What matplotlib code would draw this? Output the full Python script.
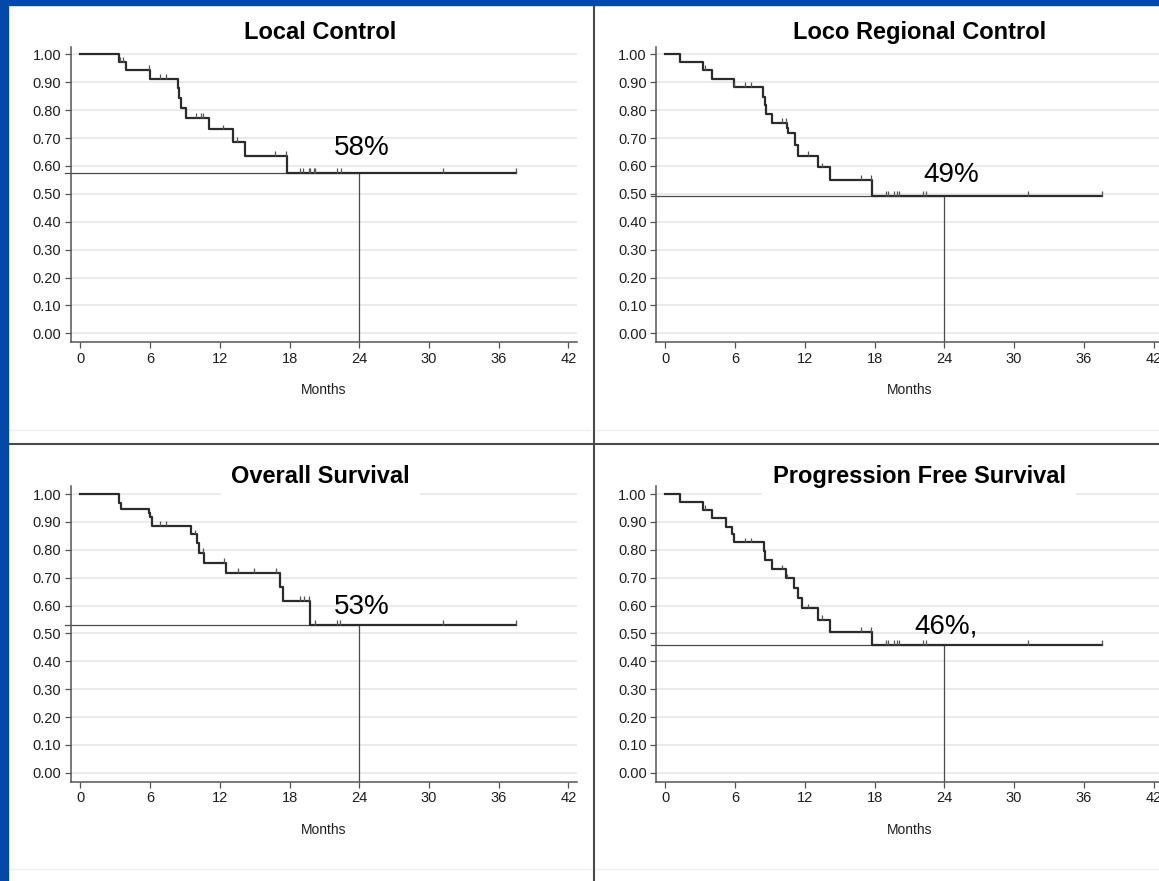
import numpy as np
import matplotlib
matplotlib.use("Agg")
import matplotlib.pyplot as plt
import matplotlib.font_manager as fm
from matplotlib.lines import Line2D
from matplotlib.patches import Rectangle

# ---------------- data ----------------
titles = ["Local Control", "Loco Regional Control", "Overall Survival", "Progression Free Survival"]
pct_labels = ["58%", "49%", "53%", "46%,"]

lc_t = [0, 3.3, 3.93, 5.95, 8.38, 8.47, 8.62, 9.12, 11.04, 13.11, 14.14, 17.78, 37.5]
lc_s = [1.0, 0.973, 0.943, 0.911, 0.88, 0.845, 0.806, 0.771, 0.731, 0.685, 0.636, 0.576, 0.576]
lc_c = [3.44, 3.67, 5.88, 6.83, 7.34, 9.98, 10.38, 10.56, 12.28, 13.5, 16.78, 17.67,
        18.93, 19.13, 19.65, 19.8, 20.08, 20.22, 22.09, 22.43, 31.2, 37.5]

lrc_t = [0, 1.25, 3.25, 3.98, 5.92, 8.42, 8.54, 8.65, 9.19, 10.43, 10.55, 11.14, 11.38, 13.1, 14.18, 17.8, 37.53]
lrc_s = [1.0, 0.971, 0.944, 0.913, 0.882, 0.848, 0.818, 0.786, 0.753, 0.735, 0.717, 0.676, 0.637, 0.595, 0.549, 0.493, 0.493]
lrc_c = [3.4, 5.92, 6.87, 7.36, 10.0, 10.34, 12.29, 13.5, 16.8, 17.66, 18.98, 19.17, 19.66,
         19.9, 20.12, 22.13, 22.42, 31.22, 37.53]

os_t = [0, 3.3, 3.53, 5.88, 5.96, 6.17, 9.52, 10.04, 10.2, 10.61, 12.57, 17.15, 17.44, 19.79, 37.5]
os_s = [1.0, 0.969, 0.945, 0.931, 0.916, 0.885, 0.855, 0.823, 0.789, 0.754, 0.716, 0.667, 0.617, 0.532, 0.532]
os_c = [6.88, 7.4, 9.9, 10.56, 12.33, 13.54, 14.97, 16.87, 18.88, 19.22, 19.65, 20.22,
        22.09, 22.38, 31.2, 37.5]

pfs_t = [0, 1.25, 3.25, 3.98, 5.21, 5.72, 5.9, 8.45, 8.56, 9.17, 10.37, 11.06, 11.4, 11.77, 13.1, 14.18, 17.8, 37.53]
pfs_s = [1.0, 0.971, 0.943, 0.913, 0.883, 0.856, 0.827, 0.795, 0.763, 0.73, 0.698, 0.662, 0.626, 0.59, 0.548, 0.506, 0.458, 0.458]
pfs_c = [3.4, 6.87, 7.36, 10.0, 10.5, 12.29, 13.5, 16.8, 17.66, 18.98, 19.17, 19.66, 19.9,
         20.12, 22.13, 22.42, 31.22, 37.53]

x_ticks = [0, 6, 12, 18, 24, 30, 36, 42]
y_ticks = [0.0, 0.1, 0.2, 0.3, 0.4, 0.5, 0.6, 0.7, 0.8, 0.9, 1.0]
landmark = 24

series = [(lc_t, lc_s, lc_c), (lrc_t, lrc_s, lrc_c), (os_t, os_s, os_c), (pfs_t, pfs_s, pfs_c)]

# ---------------- layout ----------------
W, H = 1159, 881
fig = plt.figure(figsize=(W / 100, H / 100), dpi=100)
fig.patch.set_facecolor("white")

names = {f.name for f in fm.fontManager.ttflist}
if "Liberation Sans Narrow" in names:
    title_family, title_size = "Liberation Sans Narrow", 20
else:
    title_family, title_size = "Liberation Sans", 17
base_family = "Liberation Sans" if "Liberation Sans" in names else "DejaVu Sans"
plt.rcParams["font.family"] = [base_family, "DejaVu Sans"]


def fx(px):
    return px / W


def fy(py):
    return 1 - py / H


# axes boxes in pixel coords: (left, top, right, bottom)
boxes = [(70.8, 46.5, 577.1, 342.3), (656.4, 46.5, 1162.7, 342.3),
         (70.8, 486.0, 577.1, 781.7), (656.4, 486.0, 1162.7, 781.7)]
xlims = [(-0.83, 42.75), (-0.78, 42.79), (-0.83, 42.75), (-0.78, 42.79)]
ylims = [(-0.032, 1.028), (-0.032, 1.028), (-0.032, 1.029), (-0.032, 1.029)]
title_pos = [(320.4, 39.3), (920.0, 39.3), (320.5, 483.3), (919.3, 483.3)]
pct_pos = [(24.18, 0.639), (24.59, 0.543), (24.24, 0.568), (24.14, 0.500)]

dark = "#2b2b2b"
axcol = "#555555"

for i, (tt, ss, cc) in enumerate(series):
    l, t, r, b = boxes[i]
    ax = fig.add_axes([fx(l), fy(b), fx(r - l), (b - t) / H])
    ax.set_xlim(*xlims[i])
    ax.set_ylim(*ylims[i])
    ax.set_facecolor("white")
    for sp in ["top", "right"]:
        ax.spines[sp].set_visible(False)
    for sp in ["left", "bottom"]:
        ax.spines[sp].set_color(axcol)
        ax.spines[sp].set_linewidth(1.1)
    ax.set_xticks(x_ticks)
    ax.set_yticks(y_ticks)
    ax.set_yticklabels([f"{v:.2f}" for v in y_ticks])
    ax.tick_params(axis="both", direction="out", length=4, width=0.9, color=axcol,
                   labelsize=10.5, labelcolor="#1e1e1e", pad=2.8)
    for yv in y_ticks:
        ax.axhline(yv, color="#e9e9e9", lw=1.3, zorder=0)

    tt = np.array(tt)
    ss = np.array(ss)
    ax.step(tt, ss, where="post", color=dark, lw=1.6, zorder=3, clip_on=False)
    cc = np.array(cc)
    idx = np.searchsorted(tt, cc, side="right") - 1
    cs = ss[idx]
    ax.vlines(cc, cs, cs + 0.017, color="#555555", lw=0.9, zorder=3)

    s24 = ss[np.searchsorted(tt, landmark, side="right") - 1]
    ax.plot([xlims[i][0] - 0.5, landmark], [s24, s24], color="#4a4a4a", lw=0.9, zorder=2, clip_on=False)
    ax.plot([landmark, landmark], [ylims[i][0], s24], color="#4a4a4a", lw=0.9, zorder=2)

    ax.text(pct_pos[i][0], pct_pos[i][1], pct_labels[i], ha="center", va="baseline",
            fontsize=20, color="black", zorder=4)
    ax.text(0.5, -(394.3 - 342.3) / (b - t), "Months", transform=ax.transAxes,
            ha="center", va="baseline", fontsize=10, color="#1e1e1e")

    tx, ty = title_pos[i]
    kw = {}
    if i >= 2:
        kw["bbox"] = dict(facecolor="white", edgecolor="none", boxstyle="square,pad=0.45")
    fig.text(fx(tx), fy(ty), titles[i], ha="center", va="baseline", fontsize=title_size,
             fontweight="bold", family=[title_family, "DejaVu Sans"], color="black", **kw)

# faint separators
for (x0, x1, y) in [(8, 590, 430), (596, 1159, 430), (8, 590, 869), (596, 1159, 869)]:
    fig.add_artist(Line2D([fx(x0), fx(x1)], [fy(y), fy(y)], color="#efefef", lw=1.0))

# dividers
fig.add_artist(Line2D([fx(593.6), fx(593.6)], [0, 1], color="#4a4a4a", lw=1.5))
fig.add_artist(Line2D([fx(8), 1], [fy(444), fy(444)], color="#4a4a4a", lw=1.5))

# blue frame
blue = "#0349A8"
fig.add_artist(Rectangle((0, 0), fx(8), 1, transform=fig.transFigure, color=blue, zorder=10))
fig.add_artist(Rectangle((0, fy(5)), 1, 5 / H, transform=fig.transFigure, color=blue, zorder=10))

fig.savefig("out.png", dpi=100, facecolor="white")
